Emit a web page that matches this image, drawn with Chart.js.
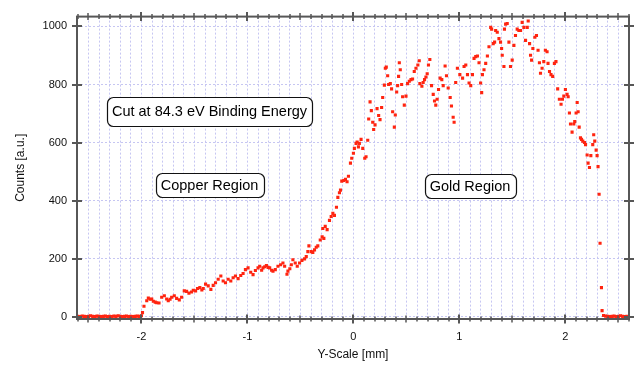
<!DOCTYPE html>
<html>
<head>
<meta charset="utf-8">
<script src="https://cdn.jsdelivr.net/npm/chart.js@4.4.0/dist/chart.umd.min.js"></script>
<style>
  html, body { margin: 0; padding: 0; background: #fff; }
  #wrap { width: 640px; height: 366px; }
</style>
</head>
<body>
<div id="wrap"><canvas id="cut" width="640" height="366"></canvas></div>
<script>
// scan position [mm] and counts, split by region
const flatLowX = [-2.60,-2.58,-2.56,-2.54,-2.52,-2.50,-2.48,-2.46,-2.44,-2.42,-2.40,-2.38,-2.36,-2.34,-2.32,-2.30,
  -2.28,-2.26,-2.24,-2.22,-2.20,-2.18,-2.16,-2.14,-2.12,-2.10,-2.08,-2.06,-2.04,-2.02,-2.00];
const flatLowY = [1,0,2,1,0,1,3,1,0,2,1,0,1,2,0,1,0,2,1,3,1,0,1,2,0,1,0,1,2,1,3];

const copperX = [-1.99,-1.976,-1.95,-1.935,-1.918,-1.903,-1.888,-1.87,-1.856,-1.834,-1.809,-1.784,-1.762,-1.747,
  -1.73,-1.715,-1.69,-1.668,-1.643,-1.621,-1.596,-1.574,-1.552,-1.527,-1.511,-1.489,-1.471,-1.449,-1.43,-1.417,
  -1.395,-1.37,-1.345,-1.323,-1.301,-1.276,-1.251,-1.229,-1.207,-1.182,-1.157,-1.135,-1.113,-1.088,-1.063,-1.041,
  -1.019,-0.994,-0.969,-0.947,-0.925,-0.90,-0.884,-0.866,-0.853,-0.837,-0.821,-0.805,-0.79,-0.772,-0.759,-0.737,
  -0.712,-0.687,-0.665,-0.649,-0.627,-0.618,-0.60,-0.586,-0.571,-0.549,-0.53,-0.508,-0.486,-0.461,-0.445,-0.43,-0.42];
const copperY = [14,36,55,64,60,61,53,50,48,47,67,72,61,55,60,67,72,63,58,67,89,87,81,85,91,89,97,100,92,97,
  112,106,94,108,117,129,140,123,117,129,123,134,140,131,142,149,162,168,153,145,159,168,174,160,168,172,176,170,
  168,160,157,162,174,179,185,174,146,157,165,179,196,185,174,185,194,199,207,224,244];

const riseX = [-0.398,-0.383,-0.367,-0.351,-0.336,-0.313,-0.295,-0.289,-0.279,-0.266,-0.248,-0.226,-0.21,-0.194,
  -0.179,-0.16,-0.147,-0.132,-0.122,-0.11,-0.091,-0.075,-0.06,-0.047,-0.028,-0.016,0.0,0.009,0.025,0.035,0.047,
  0.056,0.072,0.088,0.107,0.119,0.135,0.144,0.157,0.169,0.182,0.191,0.204,0.223,0.238,0.251,0.266,0.276,0.292];
const riseY = [224,221,230,239,244,264,275,304,270,311,300,332,345,356,349,377,411,427,436,467,469,473,465,484,
  529,546,563,580,597,602,585,597,611,580,546,551,608,681,740,710,670,645,661,717,693,679,721,755,798];

const goldX = [0.301,0.31,0.323,0.332,0.348,0.36,0.37,0.386,0.395,0.408,
  0.417,0.426,0.433,0.442,0.455,0.464,0.48,0.496,0.511,0.527,
  0.543,0.558,0.574,0.59,0.608,0.621,0.627,0.646,0.658,0.671,
  0.684,0.696,0.708,0.721,0.737,0.753,0.765,0.777,0.79,0.803,
  0.818,0.834,0.847,0.865,0.878,0.894,0.913,0.925,0.941,0.95,
  0.965,0.981,1.004,1.03,1.044,1.06,1.076,1.091,1.107,1.123,
  1.138,1.154,1.17,1.185,1.2,1.21,1.217,1.232,1.248,1.264,
  1.279,1.295,1.304,1.319,1.332,1.342,1.357,1.373,1.388,1.398,
  1.404,1.42,1.425,1.436,1.451,1.467,1.482,1.498,1.514,1.529,
  1.545,1.561,1.577,1.592,1.608,1.624,1.64,1.649,1.662,1.671,
  1.681,1.693,1.712,1.727,1.742,1.755,1.765,1.78,1.796,1.811,
  1.827,1.836,1.85,1.864,1.88,1.896,1.911,1.927,1.943,1.959,
  1.972,1.985,2.0,2.016,2.026,2.038,2.048,2.063,2.079,2.088,
  2.101,2.111,2.12,2.13,2.142,2.152,2.164,2.18,2.19,2.205,
  2.214,2.227,2.24,2.258,2.267,2.277,2.29,2.299,2.308,2.318,
  2.327,2.34,2.346];
const goldY = [856,860,830,800,803,785,706,653,695,774,
  796,828,875,851,800,758,729,760,803,811,
  817,819,845,856,867,882,803,794,807,817,
  826,837,867,886,796,766,743,729,749,783,
  822,817,796,864,830,788,755,726,687,670,
  807,856,834,822,862,867,834,805,796,834,
  890,896,898,875,805,772,834,851,873,898,
  930,997,991,941,946,986,980,958,946,924,
  901,862,991,1008,1010,946,862,884,935,969,
  991,986,986,1014,997,952,997,1019,941,901,
  884,924,963,969,918,875,839,856,879,918,
  913,873,845,834,828,873,879,785,749,732,
  749,760,783,766,758,702,664,636,664,672,
  702,738,706,653,616,611,605,600,593,557,
  529,514,555,593,627,605,574,555,517,422,
  253,100,21];

const flatHighX = [2.36,2.38,2.40,2.42,2.44,2.46,2.48,2.50,2.52,2.54,2.56,2.58];
const flatHighY = [4,2,1,0,1,2,0,1,3,1,0,1];

const xRange = [-2.608, 2.6];
const yRange = [-8, 1034];
const xStep = 0.1;
const yStep = 200;

const notes = [
  { text: 'Cut at 84.3 eV Binding Energy', at: [-1.358, 708], h: 29 },
  { text: 'Copper Region', at: [-1.358, 454], h: 24 },
  { text: 'Gold Region', at: [1.10, 449], h: 24 }
];

const FONT = '"Liberation Sans", Arial, Helvetica, sans-serif';
const isInt = v => Math.abs(v - Math.round(v)) < 1e-6;

const allX = [].concat(flatLowX, copperX, riseX, goldX, flatHighX);
const allY = [].concat(flatLowY, copperY, riseY, goldY, flatHighY);
const points = allX.map((x, i) => ({ x: x, y: allY[i] }));

// axis frame with ticks crossing the lines, like the Igor style
const framePlugin = {
  id: 'frame',
  afterDatasetsDraw(chart) {
    const { ctx, chartArea: a, scales: { x, y } } = chart;
    ctx.save();
    ctx.strokeStyle = '#575757';
    ctx.lineWidth = 2;
    ctx.strokeRect(a.left, a.top, a.right - a.left, a.bottom - a.top);
    x.ticks.forEach(t => {
      const px = Math.round(x.getPixelForValue(t.value));
      const major = isInt(t.value), half = isInt(t.value * 2);
      const len = major ? 4.5 : (half ? 3.5 : 2.5);
      ctx.lineWidth = major ? 2 : 1.5;
      ctx.beginPath();
      ctx.moveTo(px, a.bottom - len); ctx.lineTo(px, a.bottom + len);
      ctx.moveTo(px, a.top - len); ctx.lineTo(px, a.top + len);
      ctx.stroke();
    });
    ctx.lineWidth = 2;
    y.ticks.forEach(t => {
      const py = Math.round(y.getPixelForValue(t.value));
      ctx.beginPath();
      ctx.moveTo(a.left - 5, py); ctx.lineTo(a.left + 5, py);
      ctx.moveTo(a.right - 5, py); ctx.lineTo(a.right + 5, py);
      ctx.stroke();
    });
    ctx.restore();
  }
};

// rounded text boxes
const notesPlugin = {
  id: 'notes',
  afterDatasetsDraw(chart) {
    const { ctx, scales: { x, y } } = chart;
    ctx.save();
    ctx.font = '14.5px ' + FONT;
    ctx.textAlign = 'center';
    ctx.textBaseline = 'middle';
    notes.forEach(n => {
      const cx = x.getPixelForValue(n.at[0]);
      const cy = y.getPixelForValue(n.at[1]);
      const w = ctx.measureText(n.text).width + 10;
      const left = Math.round(cx - w / 2) + 0.5, top = Math.round(cy - n.h / 2) + 0.5;
      ctx.beginPath();
      ctx.roundRect(left, top, Math.round(w), n.h, 6);
      ctx.fillStyle = '#fff';
      ctx.fill();
      ctx.lineWidth = 1.2;
      ctx.strokeStyle = '#111';
      ctx.stroke();
      ctx.fillStyle = '#000';
      ctx.fillText(n.text, cx, cy + 1);
    });
    ctx.restore();
  }
};

const ctx = document.getElementById('cut').getContext('2d');
new Chart(ctx, {
  type: 'scatter',
  data: {
    datasets: [{
      data: points,
      pointStyle: 'rect',
      pointRadius: 2.2,
      pointHoverRadius: 2.2,
      pointBorderWidth: 0,
      pointBackgroundColor: '#ff2410'
    }]
  },
  options: {
    responsive: false,
    animation: false,
    events: [],
    layout: { padding: { top: 14, right: 9, left: 0, bottom: 0 } },
    plugins: { legend: { display: false }, tooltip: { enabled: false } },
    scales: {
      x: {
        type: 'linear',
        min: xRange[0],
        max: xRange[1],
        afterFit: s => { s.height = 47; },
        grid: { color: '#c6c6f2', lineWidth: 1, drawTicks: false },
        border: { display: false, dash: [2, 2] },
        ticks: {
          stepSize: xStep,
          includeBounds: false,
          autoSkip: false,
          maxRotation: 0,
          padding: 11,
          color: '#111',
          font: { size: 11, family: FONT },
          callback: v => isInt(v) ? String(Math.round(v)) : ''
        },
        title: {
          display: true,
          text: 'Y-Scale [mm]',
          color: '#111',
          font: { size: 12, family: FONT },
          padding: { top: 0, bottom: 4 }
        }
      },
      y: {
        type: 'linear',
        min: yRange[0],
        max: yRange[1],
        afterFit: s => { s.width = 77; },
        grid: { color: '#c6c6f2', lineWidth: 1, drawTicks: false },
        border: { display: false, dash: [2, 2] },
        ticks: {
          stepSize: yStep,
          includeBounds: false,
          padding: 10,
          color: '#111',
          font: { size: 11, family: FONT },
          callback: v => String(Math.round(v))
        },
        title: {
          display: true,
          text: 'Counts [a.u.]',
          color: '#111',
          font: { size: 12, family: FONT },
          padding: { top: 13, bottom: 0 }
        }
      }
    }
  },
  plugins: [framePlugin, notesPlugin]
});
</script>
</body>
</html>
